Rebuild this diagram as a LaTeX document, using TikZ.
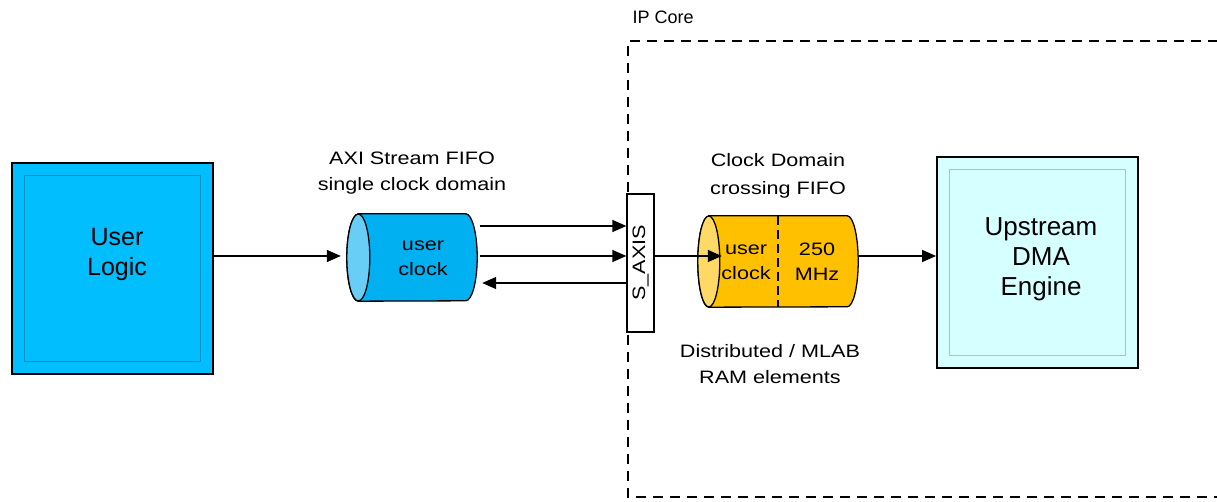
\documentclass[tikz,border=0pt]{standalone}
\usepackage{fontspec}
\setmainfont{Liberation Sans}
\newfontfamily\widesf[FakeStretch=1.2]{Liberation Sans}
\usetikzlibrary{arrows.meta}

\definecolor{userblue}{RGB}{0,190,255}
\definecolor{userbevel}{RGB}{0,140,190}
\definecolor{dmacyan}{RGB}{214,255,255}
\definecolor{dmabevel}{RGB}{150,205,205}
\definecolor{fifoblue}{RGB}{0,176,240}
\definecolor{fifobluefa}{RGB}{105,206,246}
\definecolor{fifoorange}{RGB}{255,192,0}
\definecolor{fifoorangefa}{RGB}{255,217,102}

% cylinder round a rectangle node: name, x radius, y radius, body, end face
\newcommand{\fifobody}[5]{%
	\filldraw[fill=#4, line width=1.3pt] ([xshift=#2]#1.north west) -- ([xshift=-#2]#1.north east)
		arc[start angle=90, end angle=-90, x radius=#2, y radius=#3]
		-- ([xshift=#2]#1.south west)
		arc[start angle=270, end angle=90, x radius=#2, y radius=#3] -- cycle;
	\filldraw[fill=#5, line width=1.3pt] ([xshift=#2]#1.west) ellipse[x radius=#2, y radius=#3];
}

\begin{document}
\begin{tikzpicture}[x=1pt, y=1pt,
	block/.style={draw, line width=1.8pt, inner sep=0pt, minimum width=201pt, minimum height=211pt},
	bevel/.style={line width=1pt},
	fifonode/.style={inner sep=0pt},
	arr/.style={-{Triangle[length=14pt,width=12pt]}, line width=1.4pt},
	small/.style={align=center, font=\widesf\fontsize{18}{26}\selectfont},
	big/.style={align=center, font=\fontsize{25}{30}\selectfont}]
	\useasboundingbox (0,0) rectangle (1217,502);

	% IP core boundary
	\draw[line width=2.3pt, dash pattern=on 10pt off 7pt] (1235,461) -- (628,461) -- (628,5) -- (1235,5);
	\node[anchor=west, font=\fontsize{18}{22}\selectfont] (ipcore) at (629,485) {IP Core};

	% outer blocks
	\node[block, fill=userblue] (user) at (112.5,233.5) {};
	\draw[bevel, userbevel] ([shift={(13pt,13pt)}]user.south west) rectangle ([shift={(-13pt,-13pt)}]user.north east);
	\node[big] (userlbl) at (117,247) {User\\Logic};

	\node[block, fill=dmacyan] (dma) at (1037.5,239.5) {};
	\draw[bevel, dmabevel] ([shift={(13pt,13pt)}]dma.south west) rectangle ([shift={(-13pt,-13pt)}]dma.north east);
	\node[big, font=\fontsize{26}{30}\selectfont] (dmalbl) at (1041,243) {Upstream\\DMA\\Engine};

	% single clock FIFO
	\node[fifonode, minimum width=130pt, minimum height=87pt] (ufifo) at (412,244.5) {};
	\fifobody{ufifo}{11.5pt}{43.5pt}{fifoblue}{fifobluefa}
	\node[small, font=\widesf\fontsize{18}{25}\selectfont] (ufifolbl) at (423,244) {user\\clock};
	\node[small] (ufifottl) at (412,329) {AXI Stream FIFO\\single clock domain};

	% S_AXIS port
	\node[draw, line width=1.3pt, fill=white, minimum width=27pt, minimum height=138pt, inner sep=0pt] (saxis) at (640.5,239) {};
	\node[rotate=90, font=\widesf\fontsize{18}{22}\selectfont] (saxislbl) at (saxis) {S\_AXIS};

	% clock crossing FIFO
	\node[fifonode, minimum width=160pt, minimum height=91pt] (ofifo) at (778,240.5) {};
	\fifobody{ofifo}{11pt}{45.5pt}{fifoorange}{fifoorangefa}
	\draw[line width=1.3pt, dash pattern=on 9pt off 5pt] (ofifo.north) -- (ofifo.south);
	\node[small, font=\widesf\fontsize{18}{25}\selectfont] (ofifol) at (746,240) {user\\clock};
	\node[small, font=\widesf\fontsize{18}{25}\selectfont] (ofifor) at (817,240) {250\\MHz};
	\node[small, font=\widesf\fontsize{18}{28}\selectfont] (ofifottl) at (778,326) {Clock Domain\\crossing FIFO};
	\node[small] (ramlbl) at (770,138) {Distributed / MLAB\\RAM elements};

	% data path
	\draw[arr] (user.east |- 0,246) -- ([xshift=-6pt]ufifo.west |- 0,246);
	\draw[arr] ([xshift=3pt]ufifo.east |- 0,276) -- (saxis.west |- 0,276);
	\draw[arr] ([xshift=3pt]ufifo.east |- 0,246) -- (saxis.west |- 0,246);
	\draw[arr] (saxis.west |- 0,219) -- ([xshift=5pt]ufifo.east |- 0,219);
	\draw[arr] (saxis.east |- 0,246) -- ([xshift=24pt]ofifo.west |- 0,246);
	\draw[arr] (ofifo.east |- 0,246) -- (dma.west |- 0,246);
\end{tikzpicture}
\end{document}
